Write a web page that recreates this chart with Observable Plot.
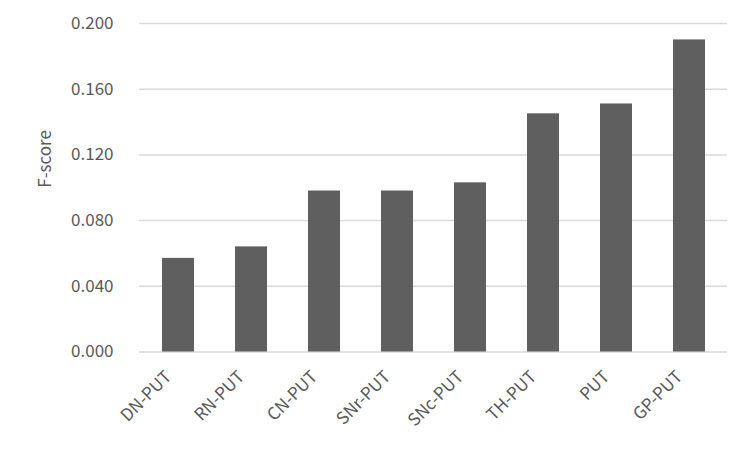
<!DOCTYPE html>
<html>
<head>
<meta charset="utf-8">
<script src="https://cdn.jsdelivr.net/npm/d3@7"></script>
<script src="https://cdn.jsdelivr.net/npm/@observablehq/plot@0.6"></script>
<style>
  html, body { margin: 0; padding: 0; background: #fff; }
  #chart svg { display: block; }
</style>
</head>
<body>
<div id="chart"></div>
<script>
const categories = ["DN-PUT", "RN-PUT", "CN-PUT", "SNr-PUT", "SNc-PUT", "TH-PUT", "PUT", "GP-PUT"];
const fscores = [0.057, 0.064, 0.098, 0.098, 0.103, 0.145, 0.151, 0.190];
const yTicks = [0, 0.04, 0.08, 0.12, 0.16, 0.2];
const yLabel = "F-score";

const data = categories.map((c, i) => ({category: c, value: fscores[i]}));

const textColor = "#595959";
const font = "'Noto Sans CJK KR', 'Noto Sans', sans-serif";

const chart = Plot.plot({
  width: 750,
  height: 450,
  marginLeft: 139,
  marginRight: 23,
  marginTop: 23,
  marginBottom: 98.5,
  style: {fontFamily: font, fontSize: "17px", color: textColor, background: "#fff"},
  x: {domain: categories, paddingInner: 0.565, paddingOuter: 0.2825, label: null, axis: null},
  y: {domain: [0, 0.2], label: null},
  marks: [
    Plot.ruleY(yTicks, {stroke: "#d9d9d9", strokeWidth: 1.5}),
    Plot.barY(data, {x: "category", y: "value", fill: "#5f5f5f"}),
    Plot.axisY({ticks: yTicks, tickFormat: d3.format(".3f"), tickSize: 0, tickPadding: 26, label: null, fill: textColor, fontSize: 17}),
    Plot.text(categories, {x: d => d, frameAnchor: "bottom", dx: -10, dy: 22, rotate: -45, textAnchor: "end", lineAnchor: "middle", fill: textColor, fontSize: 17}),
    Plot.text([yLabel], {frameAnchor: "left", dx: -94, rotate: -90, fill: textColor, fontSize: 17})
  ]
});

document.getElementById("chart").appendChild(chart);
</script>
</body>
</html>
